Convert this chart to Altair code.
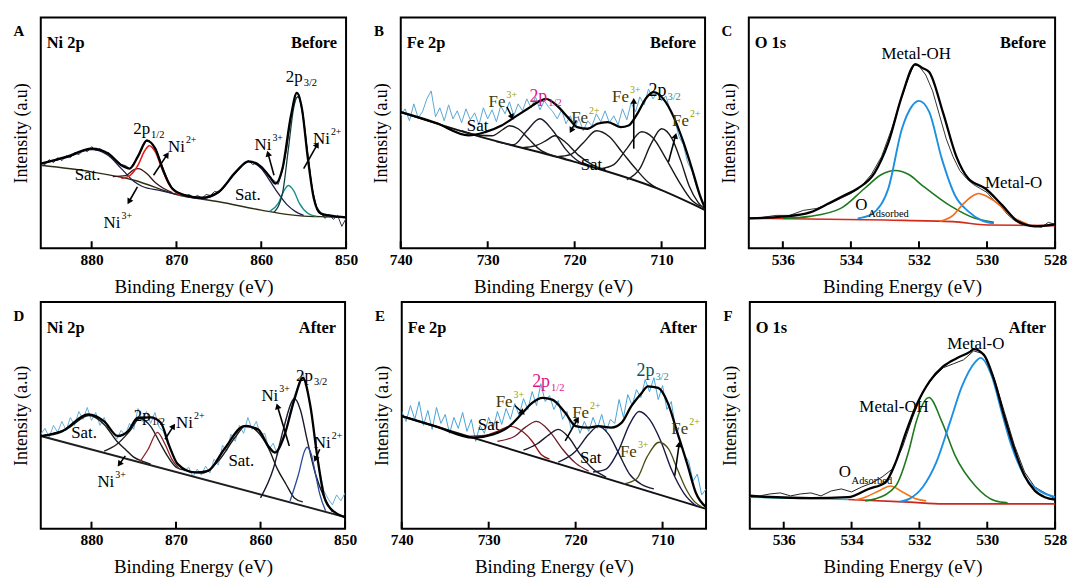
import math
import altair as alt
import pandas as pd

FONT = "Liberation Serif"

# ---------------- Panel A : Ni 2p before ----------------
A_RAW_Y = [86, 84, 89, 86, 91, 88, 93, 91, 96, 94,
           99, 97, 102, 98, 100, 95, 96, 90, 88, 84,
           83, 80, 86, 92, 101, 109, 106, 101, 90, 79,
           68, 61, 57, 55, 52, 54, 51, 53, 50, 54,
           53, 57, 56, 62, 66, 71, 77, 80, 86, 88,
           84, 86, 81, 78, 71, 68, 64, 78, 100, 132,
           150, 154, 128, 92, 60, 42, 36, 30, 34, 29,
           33, 22, 30]
A_ENV = [(886, 85), (883, 91.7), (880, 100), (878, 95), (876.5, 83.3), (875.5, 80), (874.5, 93),
         (873.5, 108), (872.5, 100), (871.5, 76.7), (870.5, 60), (869, 53.3), (867, 50.7), (865, 56.7),
         (863, 76.7), (861.5, 87.3), (860, 81.7), (859, 71.7), (858.3, 65), (857.5, 80), (856.5, 133),
         (855.8, 156), (855.2, 140), (854.5, 90), (853.8, 50), (853, 35), (851, 31.7), (850, 31)]
A_BG = [(886, 83.3), (880, 76.7), (875, 68.3), (870, 54), (865, 46.7), (860, 38.3), (857, 34),
        (855, 32.3), (853, 31.7), (850, 30.7)]
A_SAT1 = [(886, 85), (883, 91), (880, 99), (878, 93), (876.5, 80), (875, 67), (874, 62), (872, 58), (870, 54)]
A_NI3_12 = [(877.5, 72), (876, 73), (875, 79), (874.5, 80), (873.5, 75), (872.5, 66), (871.5, 60), (870.5, 56)]
A_NI2_12 = [(876.5, 70), (875.5, 73), (874.5, 84), (873.8, 97), (873.2, 103), (872.5, 97), (871.8, 82),
            (871, 66), (870.2, 57), (869.5, 53)]
A_SAT2 = [(869, 52), (867, 50), (865, 56), (863, 76), (861.5, 87), (860, 80), (859, 68), (858, 55),
          (857, 44), (856, 37), (855, 33)]
A_NI3_32 = [(859, 37), (858, 45), (857.3, 58), (856.8, 63), (856.2, 58), (855.5, 45), (854.5, 35), (853.5, 32)]
A_NI2_32 = [(858.5, 36), (857.5, 55), (856.8, 100), (856.2, 140), (855.7, 152), (855.2, 140), (854.6, 100),
            (854, 60), (853.3, 38), (852.5, 32)]

# ---------------- Panel B : Fe 2p before ----------------
B_RAW_Y = [133, 140, 128, 145, 131, 137, 150, 158, 132, 141,
           128, 144, 130, 138, 126, 140, 129, 136, 124, 141,
           130, 139, 127, 143, 135, 147, 133, 145, 138, 150,
           141, 152, 139, 148, 142, 137, 130, 139, 125, 133,
           121, 130, 118, 128, 123, 135, 127, 138, 126, 133,
           124, 140, 129, 146, 137, 152, 144, 160, 150, 156,
           148, 153, 138, 130, 112, 104, 86, 78, 62, 50,
           42]
B_ENV = [(740, 136.7), (736, 126), (732.2, 113.3), (730.3, 116.7), (728.4, 123.3), (726.9, 131.7),
         (725.4, 140), (724, 148), (723.3, 150), (722, 143), (720.8, 131.7), (719.7, 121.7), (718.5, 120),
         (717.4, 125), (716.2, 126.7), (714.7, 121.7), (713.8, 123.3), (712.8, 135), (711.7, 151.7),
         (710.9, 156.7), (709.8, 150), (708.6, 131.7), (707.5, 106.7), (706.4, 76.7), (705.6, 53.3), (705, 40)]
B_BG = [(740, 136.7), (731.4, 113.3), (720, 86.7), (710.5, 60), (705, 38.3)]
B_SAT1 = [(733, 118), (731, 113.5), (729.5, 113), (728.3, 119), (727.5, 123), (726.5, 120), (725.3, 110),
          (724, 99), (722.5, 93), (721, 90)]
B_FE3_12 = [(729, 107), (727, 104), (725.5, 118), (724, 130), (722.5, 118), (721, 99), (719.5, 87), (718, 83)]
B_FE2_12 = [(726, 101), (724.5, 103), (723.3, 108), (722.3, 113), (721, 106), (719.5, 93), (718, 84), (716.5, 79)]
B_SAT2 = [(722, 92), (720.5, 94), (719, 106), (717.5, 118), (716, 112), (714.5, 96), (713, 80), (711.5, 66), (710, 58)]
B_FE3_32 = [(717, 80), (715.5, 84), (714, 100), (712.3, 117), (711, 111), (709.5, 90), (708, 67), (706.5, 48), (705.5, 42)]
B_FE2_32 = [(714, 69), (712.5, 80), (711.2, 105), (710, 120), (708.8, 110), (707.8, 88), (706.8, 62), (705.8, 46), (705, 39)]

# ---------------- Panel C : O 1s before ----------------
C_RAW = [(537, 30), (536.6, 31), (536.2, 33), (535.8, 33), (535.4, 38), (535, 40), (534.6, 45), (534.3, 50),
         (534, 55), (533.7, 62), (533.4, 74), (533.1, 92), (532.8, 120), (532.5, 152), (532.3, 172),
         (532.15, 184), (532, 183), (531.8, 174), (531.6, 158), (531.4, 134), (531.2, 110), (531, 92),
         (530.8, 78), (530.6, 70), (530.4, 64), (530.2, 60), (530, 56), (529.8, 48), (529.6, 42), (529.4, 34),
         (529.2, 28), (529, 24), (528.8, 23), (528.6, 23), (528.4, 21), (528.2, 26), (528, 24)]
C_ENV = [(537, 30), (536, 31.7), (535.2, 36), (534.6, 46), (534.2, 53), (533.8, 60), (533.3, 76), (532.9, 106),
         (532.5, 153), (532.1, 185), (531.9, 181), (531.7, 177), (531.3, 137), (530.9, 92), (530.55, 70),
         (530.05, 60), (529.55, 43), (529.1, 27), (528.6, 22), (528, 24)]
C_BG = [(537, 30), (533, 28.3), (531, 26.7), (530, 23.3), (528, 22.7)]
C_OADS = [(536, 30), (535.2, 32), (534.3, 40), (533.6, 60), (533.1, 74), (532.7, 78), (532.3, 74), (531.9, 63),
          (531.1, 43), (530.35, 30), (529.8, 26)]
C_MOH = [(533.8, 30), (533.4, 34), (532.9, 60), (532.5, 120), (532.2, 143), (532, 148), (531.7, 137),
         (531.33, 90), (530.94, 53), (530.55, 37), (530.16, 28), (529.8, 25)]
C_MO = [(531.4, 27), (531.0, 33), (530.74, 43), (530.45, 52), (530.25, 55), (530.0, 52), (529.77, 47),
        (529.18, 30), (528.8, 24)]

# ---------------- Panel D : Ni 2p after ----------------
D_RAW_Y = [95, 101, 92, 104, 97, 108, 99, 112, 104, 118,
           110, 122, 109, 117, 104, 112, 100, 98, 90, 99,
           94, 106, 100, 121, 108, 118, 106, 117, 102, 98,
           86, 78, 68, 64, 58, 62, 52, 60, 54, 63,
           56, 70, 64, 84, 78, 95, 88, 104, 96, 112,
           100, 108, 94, 96, 80, 86, 74, 90, 98, 118,
           134, 145, 158, 140, 118, 86, 58, 38, 30, 24,
           34, 28, 36]
D_ENV = [(886, 93.3), (883.5, 98), (880.4, 115), (878.5, 108), (876.9, 93.3), (875.7, 98), (874.5, 111.7),
         (873, 112), (871.8, 106.7), (870.8, 83.3), (869.8, 65), (867.8, 56.7), (866.2, 58.3), (864.3, 80),
         (861.9, 103.3), (860.3, 100), (859.1, 83.3), (858.3, 76.7), (857.2, 93.3), (856, 130), (855, 151.7),
         (854.1, 123.3), (853.3, 73.3), (852.5, 33.3), (851.7, 20), (850, 11.7)]
D_BG = [(886, 93.3), (850, 11.7)]
D_SAT1 = [(886, 93), (883, 100), (880.3, 114), (878.5, 105), (877, 88), (876, 80), (875, 72), (874, 68), (873, 65)]
D_NI3_12 = [(878.5, 78), (877, 85), (875.5, 98), (874.3, 111), (873, 103), (872, 88), (871, 73), (870, 62), (869, 59)]
D_NI2_12 = [(874.3, 67), (873.3, 80), (872.2, 97), (871.3, 85), (870.5, 70), (869.7, 61)]
D_SAT2 = [(869, 59), (867, 56), (865, 68), (863, 92), (861.7, 104), (860.3, 97), (859, 80), (858, 60),
          (857, 45), (856, 31), (855, 27)]
D_NI3_32 = [(860, 31), (858.5, 60), (857.3, 100), (856.3, 128), (856, 131), (855.3, 120), (854.5, 90),
            (853.5, 55), (852.5, 32), (851.5, 17)]
D_NI2_32 = [(856.5, 28), (855.5, 55), (854.8, 78), (854.5, 82), (854, 75), (853.5, 55), (853, 35), (852.3, 18)]

# ---------------- Panel E : Fe 2p after ----------------
E_RAW_Y = [118, 108, 124, 110, 128, 104, 119, 100, 122, 106,
           115, 96, 112, 101, 117, 98, 110, 88, 104, 96,
           112, 100, 118, 105, 121, 110, 126, 114, 131, 120,
           138, 124, 146, 128, 134, 120, 129, 110, 118, 100,
           112, 96, 108, 98, 112, 101, 115, 98, 110, 106,
           130, 112, 135, 124, 140, 132, 150, 138, 152, 130,
           144, 120, 128, 100, 88, 74, 68, 48, 55, 34,
           40]
E_ENV = [(740, 113.3), (736, 102.7), (731.8, 91.7), (729.5, 95), (727.6, 103.3), (726.1, 116.7), (725, 126.7),
         (723.8, 131.7), (722.7, 130), (721.2, 116.7), (720, 103.3), (718.5, 101.7), (717.4, 103.3),
         (715.9, 101.7), (714.7, 106.7), (713.6, 123.3), (712.4, 136.7), (711.7, 143.3), (710.5, 141.7),
         (709.4, 126.7), (708.3, 96.7), (707.1, 63.3), (706.2, 36.7), (705, 21.7)]
E_BG = [(740, 113.3), (705, 20)]
E_SAT1 = [(732.5, 93), (730.5, 94), (729, 98), (727.5, 103), (726, 97), (725, 88), (724, 75), (723, 70)]
E_FE3_12 = [(729, 88), (727, 93), (725.8, 102), (724.5, 108), (723, 98), (721.5, 80), (720, 66), (718.5, 58)]
E_FE2_12 = [(726, 79), (724.5, 85), (723, 95), (722, 100), (720.8, 92), (719.5, 75), (718, 60), (716.5, 52)]
E_SAT2 = [(722, 67), (720, 78), (718.5, 95), (717.4, 103), (716.2, 95), (715, 75), (713.8, 55), (712.5, 45), (711, 40)]
E_FE3_32 = [(718, 57), (716.5, 60), (715, 80), (713.8, 105), (712.7, 118), (711.5, 110), (710.2, 88),
            (709, 60), (707.5, 35), (706, 22)]
E_FE2_32 = [(714.5, 45), (713, 50), (711.8, 72), (710.4, 87), (709.3, 80), (708.3, 60), (707.3, 40), (706.3, 27), (705.5, 22)]

# ---------------- Panel F : O 1s after ----------------
F_RAW = [(537, 34), (536.7, 33), (536.4, 35), (536.1, 36), (535.8, 33), (535.5, 35), (535.2, 36), (534.9, 33),
         (534.6, 38), (534.3, 40), (534, 37), (533.7, 42), (533.4, 46), (533.1, 52), (532.8, 60), (532.5, 82),
         (532.2, 112), (531.9, 138), (531.6, 152), (531.3, 162), (531, 166), (530.7, 170), (530.4, 179),
         (530.1, 176), (529.8, 152), (529.5, 118), (529.2, 84), (528.9, 57), (528.6, 42), (528.3, 36), (528, 30)]
F_ENV = [(537, 32.7), (535.2, 30.7), (534.1, 31.7), (533.5, 40), (533, 46.7), (532.7, 66.7), (532.4, 96.7),
         (532.1, 123.3), (531.7, 148.3), (531.3, 163.3), (530.9, 171.7), (530.5, 178.3), (530.4, 180.7),
         (530.1, 175), (529.8, 150), (529.5, 113.3), (529.2, 80), (528.9, 53.3), (528.6, 38.3), (528.3, 31.7),
         (528, 29.3)]
F_BG = [(534.1, 29.3), (532.3, 26.7), (531.3, 25), (528, 25)]
F_BG_LEFT = [(537, 31.7), (534.1, 29.3)]
F_OADS = [(533.9, 29), (533.58, 32), (533.2, 38), (532.85, 43), (532.5, 37), (532.1, 30), (531.8, 28)]
F_MOH = [(533.6, 28), (533.3, 30), (532.7, 43), (532.3, 80), (532.1, 107), (531.72, 132), (531.33, 107),
         (530.94, 73), (530.35, 43), (529.77, 28), (529.4, 26)]
F_MO = [(532.6, 27), (532.3, 30), (531.9, 42), (531.5, 67), (531.1, 107), (530.75, 143), (530.35, 168),
        (530.2, 172), (529.86, 153), (529.57, 117), (529.28, 83), (528.9, 53), (528.4, 37), (528, 32)]

# ---------------- annotation texts: (x, y, main, sup, sub) ----------------
A_LABELS = [(875.1, 120, "2p", "", "1/2"), (871, 101.7, "Ni", "2+", ""), (882, 74, "Sat.", "", ""),
            (878.6, 25, "Ni", "3+", ""), (863.1, 53.3, "Sat.", "", ""), (860.8, 103.3, "Ni", "3+", ""),
            (857.1, 171.7, "2p", "", "3/2"), (853.9, 110, "Ni", "2+", "")]
B_LABELS = [(732.4, 123, "Sat", "", ""), (729.9, 146.7, "Fe", "3+", ""), (725.2, 151.5, "2p", "", "1/2"),
            (720.4, 130.5, "Fe", "2+", ""), (719.3, 83.3, "Sat.", "", ""), (715.7, 151.7, "Fe", "3+", ""),
            (711.5, 158.3, "2p", "", "3/2"), (708.8, 128, "Fe", "2+", "")]
C_LABELS = [(533.1, 195, "Metal-OH", "", ""), (530.06, 65, "Metal-O", "", ""), (533.87, 43.3, "O", "", "Adsorbed")]
D_LABELS = [(882.4, 96.7, "Sat.", "", ""), (875, 113.3, "2p", "", "1/2"), (870, 106.7, "Ni", "2+", ""),
            (879.3, 46.7, "Ni", "3+", ""), (863.8, 68.3, "Sat.", "", ""), (859.9, 134, "Ni", "3+", ""),
            (855.8, 154, "2p", "", "3/2"), (853.7, 86, "Ni", "2+", "")]
E_LABELS = [(731.25, 104, "Sat", "", ""), (729.2, 127.3, "Fe", "3+", ""), (725, 147.3, "2p", "", "1/2"),
            (720.4, 116.7, "Fe", "2+", ""), (719.5, 70.7, "Sat", "", ""), (714.9, 77.3, "Fe", "3+", ""),
            (713, 158.3, "2p", "", "3/2"), (709, 100, "Fe", "2+", "")]
F_LABELS = [(531.18, 186, "Metal-O", "", ""), (533.77, 122.7, "Metal-OH", "", ""), (534.38, 56.7, "O", "", "Adsorbed")]

# arrows: (x_from, y_from, x_head, y_head)
A_ARROWS = [(872.7, 73.3, 871.1, 94), (874.6, 61.7, 875.6, 46.7), (858.5, 73.3, 859.2, 95), (855, 80, 853.4, 104)]
B_ARROWS = [(727.8, 142, 727.2, 131.7), (719.8, 128.3, 720.4, 118.3), (713.2, 100, 713.2, 148), (709.2, 86.7, 708.4, 113)]
D_ARROWS = [(871.3, 90, 870.3, 103.3), (876, 73.3, 876.7, 65), (856.6, 83.3, 858, 123.3), (853.0, 80, 853.5, 70)]
E_ARROWS = [(727.0, 124, 726.1, 116.7), (721.2, 88.3, 719.8, 110), (708.6, 53.3, 708.1, 85)]

# ---------------- styling per panel ----------------
MAG = "#e0148c"
OLV = "#3c3c08"
OLV2 = "#96a000"

PANELS = {
    "A": dict(dom=[850, 886], ticks=[880, 870, 860, 850], w=307, h=232, ymax=231.7, letter="A",
              elem="Ni 2p", state="Before",
              raw=[("raw", [(886 - 0.5 * i, v) for i, v in enumerate(A_RAW_Y)], "#26304a", 1.0)],
              comps=[("bg", A_BG, "#2e2e14", 1.4), ("sat1", A_SAT1, "#1e1e4e", 1.3), ("n3a", A_NI3_12, "#3a1414", 1.3),
                     ("n2a", A_NI2_12, "#e51c1c", 1.6), ("sat2", A_SAT2, "#1e1e50", 1.3),
                     ("n3b", A_NI3_32, "#18908c", 1.4), ("n2b", A_NI2_32, "#123a3a", 1.3)],
              env=A_ENV, labels=A_LABELS, arrows=A_ARROWS, lab_col=("#000000", "#000000", "#000000")),
    "B": dict(dom=[705, 740], ticks=[740, 730, 720, 710], w=306, h=232, ymax=231.7, letter="B",
              elem="Fe 2p", state="Before",
              raw=[("raw", [(740 - 0.5 * i, v) for i, v in enumerate(B_RAW_Y)], "#5aa6d6", 1.0)],
              comps=[("bg", B_BG, "#111111", 1.9), ("s1", B_SAT1, "#1a1a1a", 1.4), ("f3a", B_FE3_12, "#1a1a2a", 1.4),
                     ("f2a", B_FE2_12, "#1a1a1a", 1.4), ("s2", B_SAT2, "#1a1a1a", 1.4),
                     ("f3b", B_FE3_32, "#1a1a1a", 1.4), ("f2b", B_FE2_32, "#1a1a1a", 1.4)],
              env=B_ENV, labels=B_LABELS, arrows=B_ARROWS, lab_col=(OLV, OLV2, MAG)),
    "C": dict(dom=[528, 537], ticks=[536, 534, 532, 530, 528], w=308, h=232, ymax=231.7, letter="C",
              elem="O 1s", state="Before",
              raw=[("raw", C_RAW, "#333333", 1.0)],
              comps=[("bg", C_BG, "#d42a1a", 1.6), ("oads", C_OADS, "#1f7a1f", 1.6),
                     ("moh", C_MOH, "#1c8fe3", 1.9), ("mo", C_MO, "#f26a1b", 1.6)],
              env=C_ENV, labels=C_LABELS, arrows=[], lab_col=("#000000", "#000000", "#000000")),
    "D": dict(dom=[850, 886], ticks=[880, 870, 860, 850], w=306, h=228, ymax=228.3, letter="D",
              elem="Ni 2p", state="After",
              raw=[("raw", [(886 - 0.5 * i, v) for i, v in enumerate(D_RAW_Y)], "#6aaed6", 1.0)],
              comps=[("bg", D_BG, "#1e1e1e", 1.9), ("s1", D_SAT1, "#1a1a1a", 1.4), ("n3a", D_NI3_12, "#202020", 1.4),
                     ("n2a", D_NI2_12, "#8b2323", 1.3), ("s2", D_SAT2, "#1a1a1a", 1.4),
                     ("n3b", D_NI3_32, "#1a1a2e", 1.4), ("n2b", D_NI2_32, "#2a4a9a", 1.3)],
              env=D_ENV, labels=D_LABELS, arrows=D_ARROWS, lab_col=("#000000", "#000000", "#000000")),
    "E": dict(dom=[705, 740], ticks=[740, 730, 720, 710], w=306, h=228, ymax=228.3, letter="E",
              elem="Fe 2p", state="After",
              raw=[("raw", [(740 - 0.5 * i, v) for i, v in enumerate(E_RAW_Y)], "#4aa3d8", 1.0)],
              comps=[("bg", E_BG, "#111111", 1.9), ("s1", E_SAT1, "#8b1a1a", 1.3), ("f3a", E_FE3_12, "#6a1a2a", 1.3),
                     ("f2a", E_FE2_12, "#1a1a2a", 1.4), ("s2", E_SAT2, "#1a1a3a", 1.4),
                     ("f3b", E_FE3_32, "#1a1a4a", 1.4), ("f2b", E_FE2_32, "#4a4a15", 1.3)],
              env=E_ENV, labels=E_LABELS, arrows=E_ARROWS, lab_col=(OLV, OLV2, MAG)),
    "F": dict(dom=[528, 537], ticks=[536, 534, 532, 530, 528], w=307, h=228, ymax=228.3, letter="F",
              elem="O 1s", state="After",
              raw=[("raw", F_RAW, "#222222", 1.0)],
              comps=[("bgl", F_BG_LEFT, "#22c0d8", 1.6), ("bg", F_BG, "#c8281e", 1.6),
                     ("oads", F_OADS, "#f07818", 1.6), ("moh", F_MOH, "#1f7a1f", 1.6), ("mo", F_MO, "#1c8fe3", 1.9)],
              env=F_ENV, labels=F_LABELS, arrows=[], lab_col=("#000000", "#000000", "#000000")),
}

CHAR_W = {"N": 0.722, "i": 0.278, "F": 0.556, "e": 0.444, "2": 0.5, "p": 0.5, "O": 0.722}


def curve_df(series):
    rows = []
    for name, pts, color, width in series:
        for i, (x, y) in enumerate(pts):
            rows.append(dict(s=name, x=x, y=y, c=color, w=width, o=i))
    return pd.DataFrame(rows)


def make_panel(key):
    p = PANELS[key]
    w, h = p["w"], p["h"]
    X = alt.X("x:Q", scale=alt.Scale(domain=p["dom"], reverse=True, nice=False, zero=False),
              axis=alt.Axis(values=p["ticks"], format="d", title="Binding Energy (eV)",
                            labelFont=FONT, labelFontSize=15.5, labelFontWeight="bold", labelColor="black",
                            titleFont=FONT, titleFontSize=19, titleFontWeight="normal", titleColor="black",
                            ticks=False, domain=False, grid=False, labelPadding=4, titlePadding=10,
                            labelFlush=False))
    Y = alt.Y("y:Q", scale=alt.Scale(domain=[0, p["ymax"]], nice=False, zero=False),
              axis=alt.Axis(labels=False, ticks=False, domain=False, grid=False, title="Intensity (a.u)",
                            titleFont=FONT, titleFontSize=18, titleFontWeight="normal", titleColor="black",
                            titlePadding=10))

    def lines(series, interp):
        return alt.Chart(curve_df(series)).mark_line(interpolate=interp, clip=True).encode(
            x=X, y=Y, detail="s:N", order="o:Q",
            color=alt.Color("c:N", scale=None),
            strokeWidth=alt.StrokeWidth("w:Q", scale=None))

    layers = [lines(p["raw"], "linear"), lines(p["comps"], "monotone"),
              lines([("env", p["env"], "#000000", 2.3)], "monotone")]

    # inward tick marks on the bottom frame
    tdf = pd.DataFrame({"x": p["ticks"]})
    layers.append(alt.Chart(tdf).mark_rule(color="black", strokeWidth=2).encode(
        x=X, y=alt.value(h), y2=alt.value(h - 7)))

    main_col, extra_col, sub_col = p["lab_col"]
    pieces = []
    for (x, y, main, sup, sub) in p["labels"]:
        is2p = main == "2p"
        size = 17 if not is2p else (18 if key in ("B", "E") else 17)
        cm = main_col if main in ("Fe",) else ("#000000" if not is2p else (sub_col if key in ("B", "E") and sub == "1/2" else "#000000"))
        if key == "E" and is2p and sub == "3/2":
            cm = "#0d4d5d"
        pieces.append(dict(x=x, y=y, t=main, c=cm, sz=size, dx=0, dy=0))
        if sup or sub:
            adv = round(sum(CHAR_W[ch] for ch in main) * size + 1)
            if sup:
                pieces.append(dict(x=x, y=y, t=sup, c=extra_col, sz=10, dx=adv, dy=-7))
            if sub:
                if main == "O":
                    pieces.append(dict(x=x, y=y, t=sub, c="#000000", sz=10.5, dx=adv, dy=9))
                else:
                    if key in ("B", "E") and sub == "1/2":
                        sc = MAG
                    elif key in ("B", "E"):
                        sc = "#1a8fa0"
                    else:
                        sc = "#000000"
                    pieces.append(dict(x=x, y=y, t=sub, c=sc, sz=10.5, dx=adv, dy=6))
    pdf = pd.DataFrame(pieces)
    for (dx, dy), g in pdf.groupby(["dx", "dy"]):
        layers.append(alt.Chart(g.drop(columns=["dx", "dy"])).mark_text(
            align="left", baseline="middle", dx=float(dx), dy=float(dy), font=FONT).encode(
            x=X, y=Y, text="t:N", color=alt.Color("c:N", scale=None), size=alt.Size("sz:Q", scale=None)))

    if p["arrows"]:
        sx = w / (p["dom"][1] - p["dom"][0])
        sy = h / p["ymax"]
        arows = []
        for (x1, y1, x2, y2) in p["arrows"]:
            dxp = -(x2 - x1) * sx
            dyp = -(y2 - y1) * sy
            ang = math.degrees(math.atan2(dxp, -dyp)) % 360
            arows.append(dict(x=x1, y=y1, x2=x2, y2=y2, a=ang))
        adf = pd.DataFrame(arows)
        layers.append(alt.Chart(adf).mark_rule(color="black", strokeWidth=1.6).encode(
            x=X, y=Y, x2="x2:Q", y2="y2:Q"))
        layers.append(alt.Chart(adf).mark_point(shape="triangle-up", filled=True, color="black", size=45, opacity=1).encode(
            x=alt.X("x2:Q", scale=alt.Scale(domain=p["dom"], reverse=True, nice=False, zero=False)),
            y=alt.Y("y2:Q", scale=alt.Scale(domain=[0, p["ymax"]], nice=False, zero=False)),
            angle=alt.Angle("a:Q", scale=None)))

    def txt(t, xv, yv, align, size, weight="bold"):
        return alt.Chart(pd.DataFrame({"t": [t]})).mark_text(
            align=align, baseline="middle", font=FONT, fontSize=size, fontWeight=weight, color="black").encode(
            text="t:N", x=alt.value(xv), y=alt.value(yv))

    layers.append(txt(p["letter"], -22, 14, "center", 15))
    layers.append(txt(p["elem"], 6, 26, "left", 16.5))
    layers.append(txt(p["state"], w - 9, 26, "right", 16.5))

    return alt.layer(*layers).properties(width=w, height=h)


row1 = alt.hconcat(make_panel("A"),
                   alt.hconcat(make_panel("B"), make_panel("C"), spacing=44, bounds="flush"),
                   spacing=55, bounds="flush")
row2 = alt.hconcat(make_panel("D"),
                   alt.hconcat(make_panel("E"), make_panel("F"), spacing=44, bounds="flush"),
                   spacing=57, bounds="flush")

chart = alt.vconcat(row1, row2, spacing=3).properties(
    padding={"left": 12, "top": 15, "right": 4, "bottom": 2},
    background="white",
).configure_view(stroke="black", strokeWidth=2)

chart.save("out.html", embed_options={"renderer": "svg", "actions": False})
